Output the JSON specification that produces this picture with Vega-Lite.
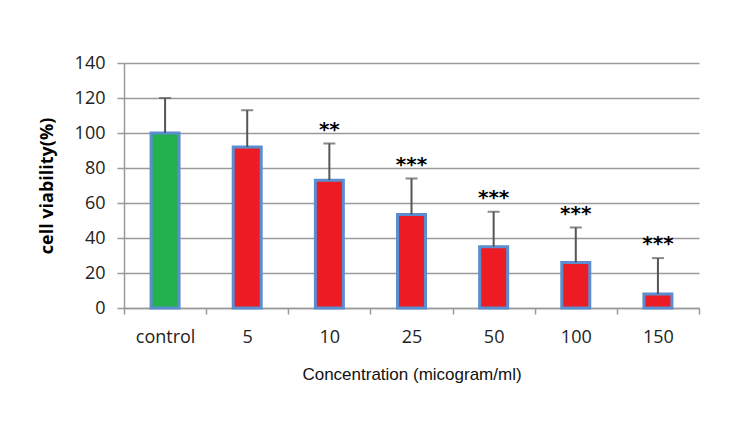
{
  "$schema": "https://vega.github.io/schema/vega-lite/v6.json",
  "width": 575,
  "height": 245,
  "autosize": "none",
  "padding": {"left": 124, "top": 63, "right": 31, "bottom": 115},
  "background": "white",
  "data": {
    "values": [
      {"conc": "control", "viability": 100, "upper": 120, "sig": "", "group": "control"},
      {"conc": "5", "viability": 92, "upper": 113, "sig": "", "group": "treated"},
      {"conc": "10", "viability": 73, "upper": 94, "sig": "**", "group": "treated"},
      {"conc": "25", "viability": 53.5, "upper": 74, "sig": "***", "group": "treated"},
      {"conc": "50", "viability": 35, "upper": 55, "sig": "***", "group": "treated"},
      {"conc": "100", "viability": 26, "upper": 46, "sig": "***", "group": "treated"},
      {"conc": "150", "viability": 8, "upper": 28.5, "sig": "***", "group": "treated"}
    ]
  },
  "config": {
    "view": {"stroke": null},
    "axis": {"gridColor": "#9a9a9a", "gridWidth": 1.5, "domainColor": "#9a9a9a", "domainWidth": 1.5, "tickColor": "#9a9a9a", "tickWidth": 1.5},
    "axisY": {
      "tickCount": 7,
      "titleFont": "Open Sans", "titleFontSize": 18, "titleFontWeight": "bold", "titleColor": "#000", "titlePadding": 18,
      "labelFont": "Open Sans", "labelFontSize": 18, "labelColor": "#222", "labelPadding": 12,
      "labelOverlap": false, "tickSize": 7, "grid": true
    }
  },
  "encoding": {
    "x": {
      "field": "conc", "type": "nominal", "sort": null,
      "scale": {"paddingInner": 0, "paddingOuter": 0},
      "axis": {
        "title": "Concentration (micogram/ml)",
        "titleFont": "Liberation Sans", "titleFontSize": 17, "titleFontWeight": "normal", "titleColor": "#111",
        "titlePadding": 20,
        "labelAngle": 0, "labelFont": "Open Sans", "labelFontSize": 18, "labelColor": "#222", "labelPadding": 14,
        "labelOverlap": false,
        "tickSize": 6, "tickBand": "extent", "grid": false
      }
    }
  },
  "layer": [
    {
      "mark": {"type": "bar", "size": 28, "stroke": "#5b8ed1", "strokeWidth": 3},
      "encoding": {
        "y": {
          "field": "viability", "type": "quantitative", "title": "cell viability(%)",
          "scale": {"domain": [0, 140], "nice": false}
        },
        "fill": {
          "field": "group", "type": "nominal",
          "scale": {"domain": ["control", "treated"], "range": ["#22b14c", "#ed1c24"]},
          "legend": null
        }
      }
    },
    {
      "mark": {"type": "rule", "color": "#555", "strokeWidth": 2},
      "encoding": {
        "y": {"field": "viability", "type": "quantitative", "title": "cell viability(%)"},
        "y2": {"field": "upper"}
      }
    },
    {
      "mark": {"type": "tick", "color": "#555", "thickness": 2, "size": 12},
      "encoding": {
        "y": {"field": "upper", "type": "quantitative", "title": "cell viability(%)"}
      }
    },
    {
      "mark": {"type": "text", "font": "DejaVu Sans", "fontSize": 20, "fontWeight": "bold", "color": "#000", "baseline": "middle", "dy": -14},
      "encoding": {
        "y": {"field": "upper", "type": "quantitative", "title": "cell viability(%)"},
        "text": {"field": "sig"}
      }
    }
  ]
}
